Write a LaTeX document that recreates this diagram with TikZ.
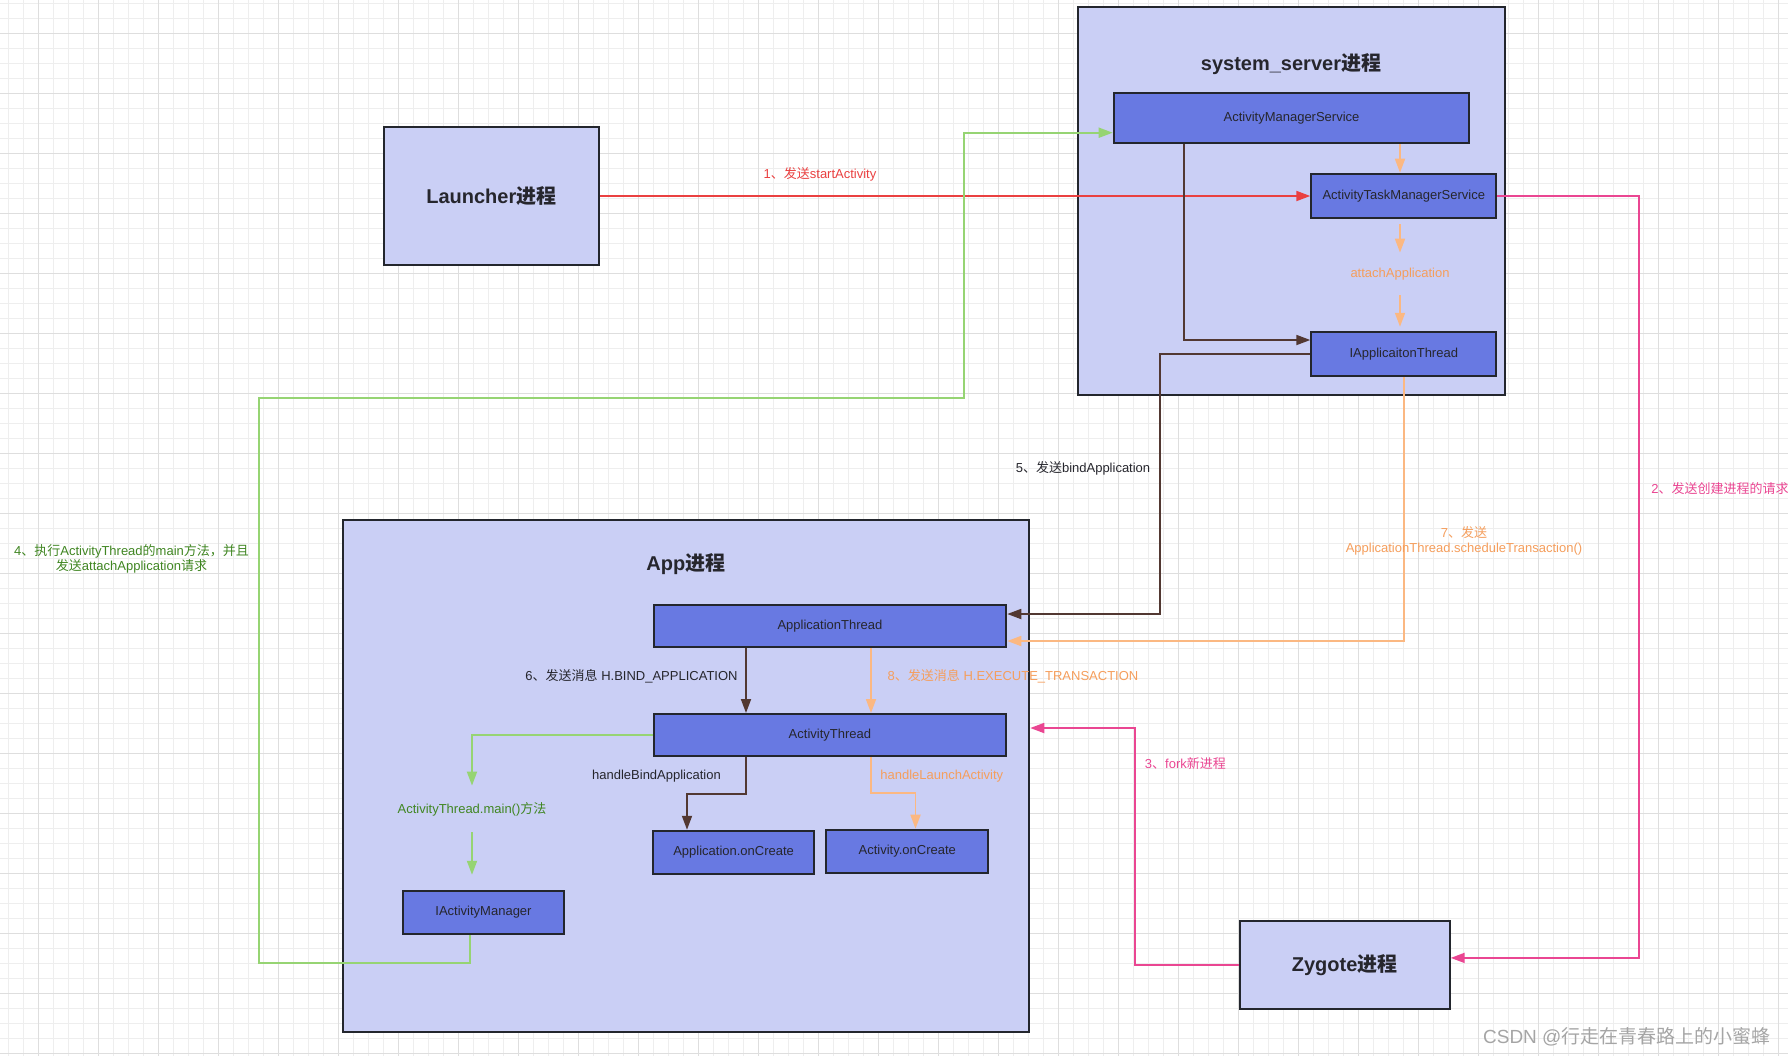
\documentclass[tikz,border=0pt]{standalone}
\usepackage{fontspec}
\setmainfont{Liberation Sans}
\newfontfamily\cjk{Noto Sans CJK SC}
\usetikzlibrary{arrows.meta}

\definecolor{gmincol}{RGB}{238,238,238}
\definecolor{gmajcol}{RGB}{222,222,222}
\definecolor{procfill}{RGB}{202,207,245}
\definecolor{compfill}{RGB}{104,121,226}
\definecolor{bordc}{RGB}{35,38,45}
\definecolor{txtc}{RGB}{38,38,45}
\definecolor{redc}{RGB}{234,64,64}
\definecolor{pinkc}{RGB}{234,70,146}
\definecolor{orgc}{RGB}{251,184,130}
\definecolor{orgt}{RGB}{245,158,92}
\definecolor{grnc}{RGB}{150,212,115}
\definecolor{grnt}{RGB}{64,134,34}
\definecolor{brnc}{RGB}{82,56,50}
\definecolor{wmarkc}{RGB}{165,165,165}

\begin{document}
\begin{tikzpicture}[x=0.5pt, y=-0.5pt,
  pbox/.style={rectangle, draw=bordc, line width=1pt, fill=procfill, text=txtc,
    font=\fontsize{10}{12}\selectfont\bfseries},
  ptitle/.style={text=txtc, font=\fontsize{10}{12}\selectfont\bfseries},
  comp/.style={rectangle, draw=bordc, line width=1pt, fill=compfill, text=txtc,
    font=\fontsize{6.5}{8}\selectfont},
  lab/.style={font=\fontsize{6.5}{7.5}\selectfont, inner sep=0pt, text=txtc},
  con/.style={line width=0.9pt, -{Triangle[length=7pt,width=5pt]}},
  rd/.style={con, draw=redc},
  pnk/.style={con, draw=pinkc},
  org/.style={con, draw=orgc},
  grn/.style={con, draw=grnc},
  brn/.style={con, draw=brnc},
  gmin/.style={draw=gmincol, line width=0.5pt},
  gmaj/.style={draw=gmajcol, line width=0.6pt}]

  \useasboundingbox (0,0) rectangle (1788,1056);
  \fill[white] (0,0) rectangle (1788,1056);

  % grid
  \foreach \i in {0,...,119} \draw[gmin] ({8.33+15*\i},0) -- ({8.33+15*\i},1056);
  \foreach \i in {0,...,70} \draw[gmin] (0,{3.33+15*\i}) -- (1788,{3.33+15*\i});
  \foreach \i in {0,...,29} \draw[gmaj] ({38.33+60*\i},0) -- ({38.33+60*\i},1056);
  \foreach \i in {0,...,17} \draw[gmaj] (0,{33.33+60*\i}) -- (1788,{33.33+60*\i});

  % processes
  \node[pbox, minimum width=107.7pt, minimum height=68.75pt] (launcher) at (491.3,196) {Launcher{\cjk 进程}};
  \node[pbox, minimum width=213.65pt, minimum height=193.85pt] (sys) at (1291.4,201.2) {};
  \node[ptitle] (systitle) at (1291,64) {system\_server{\cjk 进程}};
  \node[pbox, minimum width=343.25pt, minimum height=256.25pt] (app) at (686,776.2) {};
  \node[ptitle] (apptitle) at (685.8,564) {App{\cjk 进程}};
  \node[pbox, minimum width=105.1pt, minimum height=44.15pt] (zygote) at (1344.6,964.9) {Zygote{\cjk 进程}};

  % system_server
  \node[comp, minimum width=177.8pt, minimum height=25.3pt] (ams) at (1291.5,118) {ActivityManagerService};
  \node[comp, minimum width=92.5pt, minimum height=22.3pt] (atms) at (1403.8,196) {ActivityTaskManagerService};
  \node[lab, text=orgt, minimum height=21pt] (attach) at (1400,274) {attachApplication};
  \node[comp, minimum width=92.5pt, minimum height=22.15pt] (iat) at (1403.8,353.9) {IApplicaitonThread};

  % app
  \node[comp, minimum width=176.35pt, minimum height=21pt] (appthread) at (829.9,626) {ApplicationThread};
  \node[comp, minimum width=176.35pt, minimum height=21pt] (actthread) at (829.9,735) {ActivityThread};
  \node[comp, minimum width=80.6pt, minimum height=21.65pt] (appcreate) at (733.6,852.4) {Application.onCreate};
  \node[comp, minimum width=81pt, minimum height=21.8pt] (actcreate) at (907.3,851.5) {Activity.onCreate};
  \node[lab, text=grnt, minimum height=23pt] (mainlbl) at (472,809) {ActivityThread.main(){\cjk 方法}};
  \node[comp, minimum width=80.8pt, minimum height=21.65pt] (iam) at (483.5,912.4) {IActivityManager};

  % connectors
  \draw[rd] (launcher.east) -- (atms.west);
  \draw[pnk] (atms.east) -| (1639,600) |- ([yshift=3.5pt]zygote.east);
  \draw[pnk] (zygote.west) -| (1134.7,800) |- (app.east |- 0,728);
  \draw[grn] (iam.south -| 470,0) |- (258.8,962.7) |- (963.6,398) |- (ams.west |- 0,132.7);
  \draw[org] (ams.south -| attach.north) -- (atms.north -| attach.north);
  \draw[org, shorten <=2.5pt] (atms.south -| attach.north) -- (attach.north);
  \draw[org, shorten >=2pt] (attach.south) -- (attach.south |- iat.north);
  \draw[brn] (ams.south -| 1184,0) |- (iat.west |- 0,340);
  \draw[brn] (iat.west) -| (1159.7,500) |- (appthread.east |- 0,614);
  \draw[org] (iat.south) |- (appthread.east |- 0,641);
  \draw[brn] (appthread.south -| 746,0) -- (actthread.north -| 746,0);
  \draw[org] (appthread.south -| 871,0) -- (actthread.north -| 871,0);
  \draw[grn] (actthread.west) -| (mainlbl.north);
  \draw[grn, shorten >=7.5pt] (mainlbl.south) -- (mainlbl.south |- iam.north);
  \draw[brn] (actthread.south -| 746,0) |- (716,794) -| (appcreate.north -| 687,0);
  \draw[org] (actthread.south -| 871,0) |- (893,793) -| (actcreate.north -| 915.5,0);

  % labels
  \node[lab, text=redc] (l1) at (820,174) {1{\cjk 、发送}startActivity};
  \node[lab, text=pinkc, anchor=west] (l2) at (1651,489) {2{\cjk 、发送创建进程的请求}};
  \node[lab, text=pinkc] (l3) at (1185.4,764) {3{\cjk 、}fork{\cjk 新进程}};
  \node[lab, text=grnt, align=center] (l4) at (131.5,559) {4{\cjk 、执行}ActivityThread{\cjk 的}main{\cjk 方法，并且}\\{\cjk 发送}attachApplication{\cjk 请求}};
  \node[lab] (l5) at (1083,468) {5{\cjk 、发送}bindApplication};
  \node[lab] (l6) at (631.5,676) {6{\cjk 、发送消息} H.BIND\_APPLICATION};
  \node[lab, text=orgt, align=center] (l7) at (1464,541) {7{\cjk 、发送}\\ApplicationThread.scheduleTransaction()};
  \node[lab, text=orgt] (l8) at (1013,676) {8{\cjk 、发送消息} H.EXECUTE\_TRANSACTION};
  \node[lab] (hba) at (656.5,776) {handleBindApplication};
  \node[lab, text=orgt] (hla) at (941.8,776) {handleLaunchActivity};
  \node[lab, text=wmarkc, font=\fontsize{9.5}{11}\selectfont] (wm) at (1626.8,1037) {CSDN @{\cjk 行走在青春路上的小蜜蜂}};
\end{tikzpicture}
\end{document}
